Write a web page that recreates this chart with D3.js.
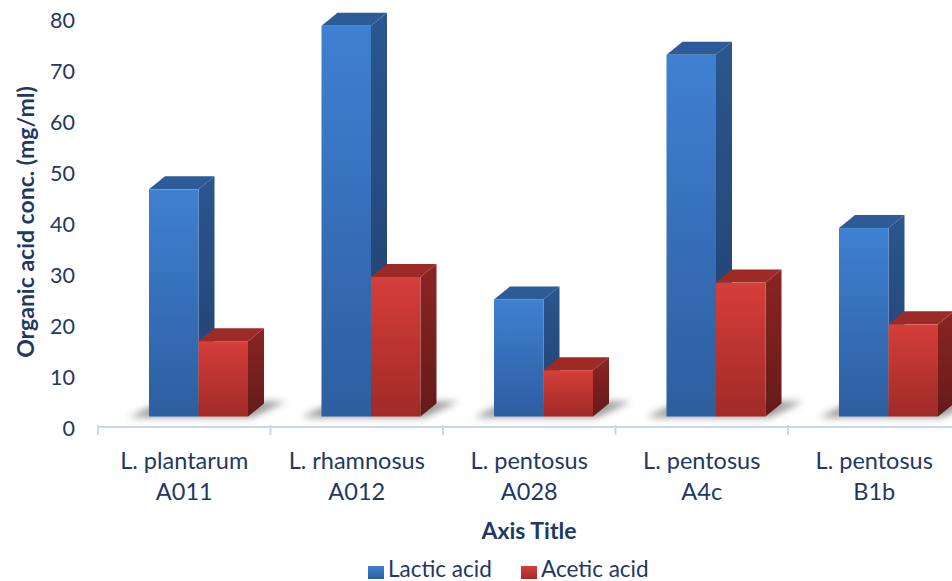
<!DOCTYPE html>
<html>
<head>
<meta charset="utf-8">
<script src="https://cdn.jsdelivr.net/npm/d3@7"></script>
<style>
  html, body { margin: 0; padding: 0; background: #ffffff; }
  svg { display: block; }
  text { font-family: Lato, "Open Sans", sans-serif; fill: #1f3864; }
</style>
</head>
<body>
<svg id="chart" width="952" height="581"></svg>
<script>
// Organic acid production per strain (mg/ml)
const categories = ["L. plantarum\nA011", "L. rhamnosus\nA012", "L. pentosus\nA028", "L. pentosus\nA4c", "L. pentosus\nB1b"];
const seriesNames = ["Lactic acid", "Acetic acid"];
const lacticAcid = [46.9, 79.0, 25.3, 73.3, 39.3];
const aceticAcid = [17.1, 29.7, 11.4, 28.6, 20.4];
const yTicks = [0, 10, 20, 30, 40, 50, 60, 70, 80];

const svg = d3.select("#chart");
const W = 952, H = 581;

const x = d3.scaleBand().domain(categories).range([98, 98 + 5 * 172.5]);
const y = d3.scaleLinear().domain([0, 80]).range([428.3, 20.7]);

// box geometry (oblique 3D projection)
const floorY = 416.5;      // bottom edge of every front face
const barOffset = 51;      // from band start to first bar front edge
const barW = 49.5;
const depthX = 16, depthY = 13;

const palette = [
  { frontTop: "#3f80d2", frontBot: "#2d5e9f", sideTop: "#2b568f", sideBot: "#223f6c", top: "#2d5b98" },
  { frontTop: "#d63e39", frontBot: "#a02a27", sideTop: "#8a2522", sideBot: "#641b1a", top: "#9c2b28" }
];

const defs = svg.append("defs");
palette.forEach((p, i) => {
  const gf = defs.append("linearGradient").attr("id", "front" + i)
    .attr("x1", 0).attr("y1", 0).attr("x2", 0).attr("y2", 1);
  gf.append("stop").attr("offset", "0%").attr("stop-color", p.frontTop);
  gf.append("stop").attr("offset", "100%").attr("stop-color", p.frontBot);
  const gs = defs.append("linearGradient").attr("id", "side" + i)
    .attr("x1", 0).attr("y1", 0).attr("x2", 0).attr("y2", 1);
  gs.append("stop").attr("offset", "0%").attr("stop-color", p.sideTop);
  gs.append("stop").attr("offset", "100%").attr("stop-color", p.sideBot);
});
defs.append("filter").attr("id", "shadowBlur")
  .attr("x", "-30%").attr("y", "-100%").attr("width", "160%").attr("height", "300%")
  .append("feGaussianBlur").attr("stdDeviation", 3.5);

// category axis line and tick marks along the floor front
const axisY = 427;
svg.append("line")
  .attr("x1", x.range()[0]).attr("x2", W)
  .attr("y1", axisY).attr("y2", axisY)
  .attr("stroke", "#c8d7ee").attr("stroke-width", 2);
svg.selectAll("line.ctick")
  .data(categories.map(c => x(c)))
  .join("line").attr("class", "ctick")
  .attr("x1", d => d).attr("x2", d => d)
  .attr("y1", axisY - 2).attr("y2", axisY + 8)
  .attr("stroke", "#c8d7ee").attr("stroke-width", 2);

// value axis labels
svg.selectAll("text.ytick")
  .data(yTicks)
  .join("text").attr("class", "ytick")
  .attr("x", 75).attr("y", d => y(d))
  .attr("dy", "0.35em")
  .attr("text-anchor", "end")
  .attr("font-size", 21.5)
  .text(d => d);

// floor shadows under each group
const groupsData = categories.map((c, i) => ({ c, vals: [lacticAcid[i], aceticAcid[i]] }));
svg.selectAll("path.shadow")
  .data(groupsData)
  .join("path").attr("class", "shadow")
  .attr("d", d => {
    const x0 = x(d.c) + barOffset, x1 = x0 + 2 * barW;
    return `M${x0 - 20},${floorY + 1} L${x1 + 4},${floorY + 1} L${x1 + depthX + 22},${floorY - depthY - 2} L${x0 + depthX - 4},${floorY - depthY - 2} Z`;
  })
  .attr("fill", "#3a3a3a").attr("opacity", 0.5)
  .attr("filter", "url(#shadowBlur)");

// 3D columns
const bars = [];
groupsData.forEach(g => {
  g.vals.forEach((v, s) => {
    bars.push({ c: g.c, v, s });
  });
});

const barG = svg.selectAll("g.bar")
  .data(bars)
  .join("g").attr("class", "bar");

barG.each(function (d) {
  const gEl = d3.select(this);
  const x0 = x(d.c) + barOffset + d.s * barW;
  const x1 = x0 + barW;
  const yt = y(d.v);
  const p = palette[d.s];
  // side face
  gEl.append("path")
    .attr("d", `M${x1},${yt} L${x1 + depthX},${yt - depthY} L${x1 + depthX},${floorY - depthY} L${x1},${floorY} Z`)
    .attr("fill", `url(#side${d.s})`);
  // top face
  gEl.append("path")
    .attr("d", `M${x0},${yt} L${x0 + depthX},${yt - depthY} L${x1 + depthX},${yt - depthY} L${x1},${yt} Z`)
    .attr("fill", p.top);
  // front face
  gEl.append("rect")
    .attr("x", x0).attr("y", yt)
    .attr("width", barW).attr("height", floorY - yt)
    .attr("fill", `url(#front${d.s})`);
});

// category labels (two lines each)
const catLabels = svg.selectAll("text.cat")
  .data(categories)
  .join("text").attr("class", "cat")
  .attr("text-anchor", "middle")
  .attr("font-size", 23.5);
catLabels.selectAll("tspan")
  .data(d => d.split("\n").map(t => ({ t, c: d })))
  .join("tspan")
  .attr("x", d => x(d.c) + x.bandwidth() / 2)
  .attr("y", (d, i) => 469 + i * 31)
  .text(d => d.t);

// axis titles
svg.append("text")
  .attr("x", 529).attr("y", 539)
  .attr("text-anchor", "middle")
  .attr("font-size", 23).attr("font-weight", "bold")
  .text("Axis Title");

svg.append("text")
  .attr("transform", "translate(34,222) rotate(-90)")
  .attr("text-anchor", "middle")
  .attr("font-size", 23).attr("font-weight", "bold")
  .text("Organic acid conc. (mg/ml)");

// legend
const legendX = [368, 521];
const legend = svg.selectAll("g.legend")
  .data(seriesNames)
  .join("g").attr("class", "legend")
  .attr("transform", (d, i) => `translate(${legendX[i]},564)`);
legend.append("rect")
  .attr("y", 2)
  .attr("width", 16).attr("height", 13)
  .attr("fill", (d, i) => `url(#front${i})`);
legend.append("text")
  .attr("x", 20).attr("y", 13)
  .attr("font-size", 22.5)
  .text(d => d);
</script>
</body>
</html>
